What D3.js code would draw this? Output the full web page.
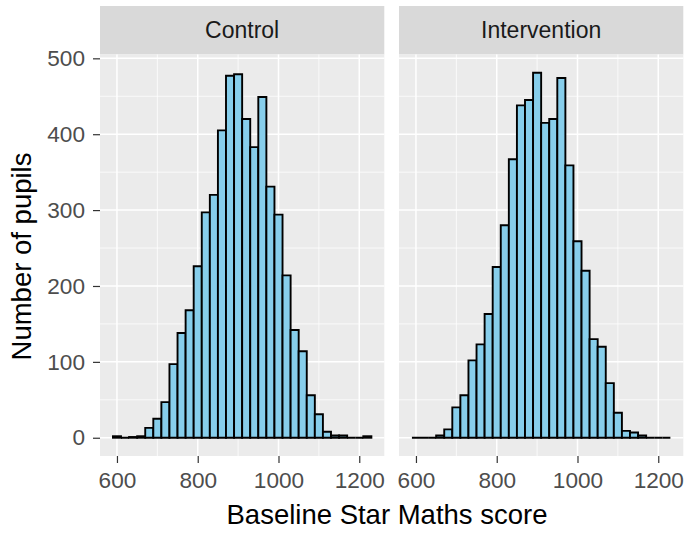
<!DOCTYPE html>
<html>
<head>
<meta charset="utf-8">
<script src="https://cdn.jsdelivr.net/npm/d3@7"></script>
<style>
  html, body { margin: 0; padding: 0; background: #ffffff; }
  svg { display: block; font-family: "Liberation Sans", Arial, sans-serif; }
</style>
</head>
<body>
<svg id="chart" width="686" height="533"></svg>
<script>
// ---- data ----
const facets = ["Control", "Intervention"];
const binStarts = [590, 610, 630, 650, 670, 690, 710, 730, 750, 770, 790, 810, 830, 850, 870, 890,
                   910, 930, 950, 970, 990, 1010, 1030, 1050, 1070, 1090, 1110, 1130, 1150, 1170, 1190, 1210];
const binWidth = 20;
const controlCounts = [2, 0, 1, 2, 13, 25, 47, 97, 138, 168, 226, 297, 320, 405, 477, 479,
                       420, 383, 449, 331, 294, 214, 142, 114, 56, 31, 8, 3, 3, 0, 0, 2];
const interventionCounts = [0, 0, 0, 3, 11, 40, 56, 102, 123, 163, 225, 280, 367, 438, 445, 481,
                            415, 420, 474, 359, 259, 220, 130, 120, 72, 33, 9, 7, 3, 0, 0, 0];
const xTicks = [600, 800, 1000, 1200];
const xMinor = [700, 900, 1100];
const yTicks = [0, 100, 200, 300, 400, 500];
const yMinor = [50, 150, 250, 350, 450];
const xTitle = "Baseline Star Maths score";
const yTitle = "Number of pupils";

// ---- layout ----
const svg = d3.select("#chart");
const panelTop = 54.5, panelBottom = 456, stripTop = 6;
const panels = [
  { name: facets[0], x0: 100, x1: 384.3, counts: controlCounts },
  { name: facets[1], x0: 399, x1: 683.3, counts: interventionCounts }
];

const allCounts = controlCounts.concat(interventionCounts);
const yMax = d3.max(allCounts);
const y = d3.scaleLinear()
  .domain([-0.05 * yMax, 1.05 * yMax])
  .range([panelBottom, panelTop]);

const xLo = binStarts[0], xHi = binStarts[binStarts.length - 1] + binWidth;
const xPad = 0.05 * (xHi - xLo);

panels.forEach((p, pi) => {
  const x = d3.scaleLinear().domain([xLo - xPad, xHi + xPad]).range([p.x0, p.x1]);
  const g = svg.append("g");

  // strip
  g.append("rect").attr("x", p.x0).attr("y", stripTop)
    .attr("width", p.x1 - p.x0).attr("height", panelTop - stripTop)
    .attr("fill", "#D9D9D9");
  g.append("text").attr("x", (p.x0 + p.x1) / 2).attr("y", (stripTop + panelTop) / 2 + 8)
    .attr("text-anchor", "middle").attr("font-size", 23).attr("fill", "#1A1A1A")
    .text(p.name);

  // panel background
  g.append("rect").attr("x", p.x0).attr("y", panelTop)
    .attr("width", p.x1 - p.x0).attr("height", panelBottom - panelTop)
    .attr("fill", "#EBEBEB");

  // minor grid
  g.selectAll(".ymin").data(yMinor).enter().append("line")
    .attr("x1", p.x0).attr("x2", p.x1).attr("y1", d => y(d)).attr("y2", d => y(d))
    .attr("stroke", "#ffffff").attr("stroke-width", 0.75);
  g.selectAll(".xmin").data(xMinor).enter().append("line")
    .attr("y1", panelTop).attr("y2", panelBottom).attr("x1", d => x(d)).attr("x2", d => x(d))
    .attr("stroke", "#ffffff").attr("stroke-width", 0.75);
  // major grid
  g.selectAll(".ymaj").data(yTicks).enter().append("line")
    .attr("x1", p.x0).attr("x2", p.x1).attr("y1", d => y(d)).attr("y2", d => y(d))
    .attr("stroke", "#ffffff").attr("stroke-width", 1.5);
  g.selectAll(".xmaj").data(xTicks).enter().append("line")
    .attr("y1", panelTop).attr("y2", panelBottom).attr("x1", d => x(d)).attr("x2", d => x(d))
    .attr("stroke", "#ffffff").attr("stroke-width", 1.5);

  // bars (drawn as closed paths so empty bins still show their outline)
  const bins = binStarts.map((s, i) => ({ s: s, e: s + binWidth, c: p.counts[i] }));
  g.selectAll(".bar").data(bins).enter().append("path")
    .attr("d", d => {
      const xa = x(d.s), xb = x(d.e), y0 = y(0), y1 = y(d.c);
      return `M${xa},${y0}V${y1}H${xb}V${y0}Z`;
    })
    .attr("fill", "#87CEEB").attr("stroke", "#000000").attr("stroke-width", 1.9)
    .attr("stroke-linejoin", "miter");

  // x axis
  const xa = g.append("g").attr("transform", `translate(0,${panelBottom})`)
    .call(d3.axisBottom(x).tickValues(xTicks).tickSize(7).tickPadding(4).tickFormat(d3.format("d")));
  xa.select(".domain").remove();
  xa.selectAll(".tick line").attr("stroke", "#333333").attr("stroke-width", 1.2);
  xa.selectAll(".tick text").attr("fill", "#4D4D4D").attr("font-size", 22.6)
    .attr("font-family", "Liberation Sans, Arial, sans-serif").attr("dy", "0.95em");

  // y axis only on first panel
  if (pi === 0) {
    const ya = g.append("g").attr("transform", `translate(${p.x0},0)`)
      .call(d3.axisLeft(y).tickValues(yTicks).tickSize(7).tickPadding(8));
    ya.select(".domain").remove();
    ya.selectAll(".tick line").attr("stroke", "#333333").attr("stroke-width", 1.2);
    ya.selectAll(".tick text").attr("fill", "#4D4D4D").attr("font-size", 22.6)
      .attr("font-family", "Liberation Sans, Arial, sans-serif");
  }
});

// axis titles
svg.append("text").attr("x", 387).attr("y", 523.5)
  .attr("text-anchor", "middle").attr("font-size", 27.5).attr("fill", "#000000")
  .text(xTitle);
svg.append("text").attr("transform", "translate(31,256.5) rotate(-90)")
  .attr("text-anchor", "middle").attr("font-size", 27.5).attr("fill", "#000000")
  .text(yTitle);
</script>
</body>
</html>
